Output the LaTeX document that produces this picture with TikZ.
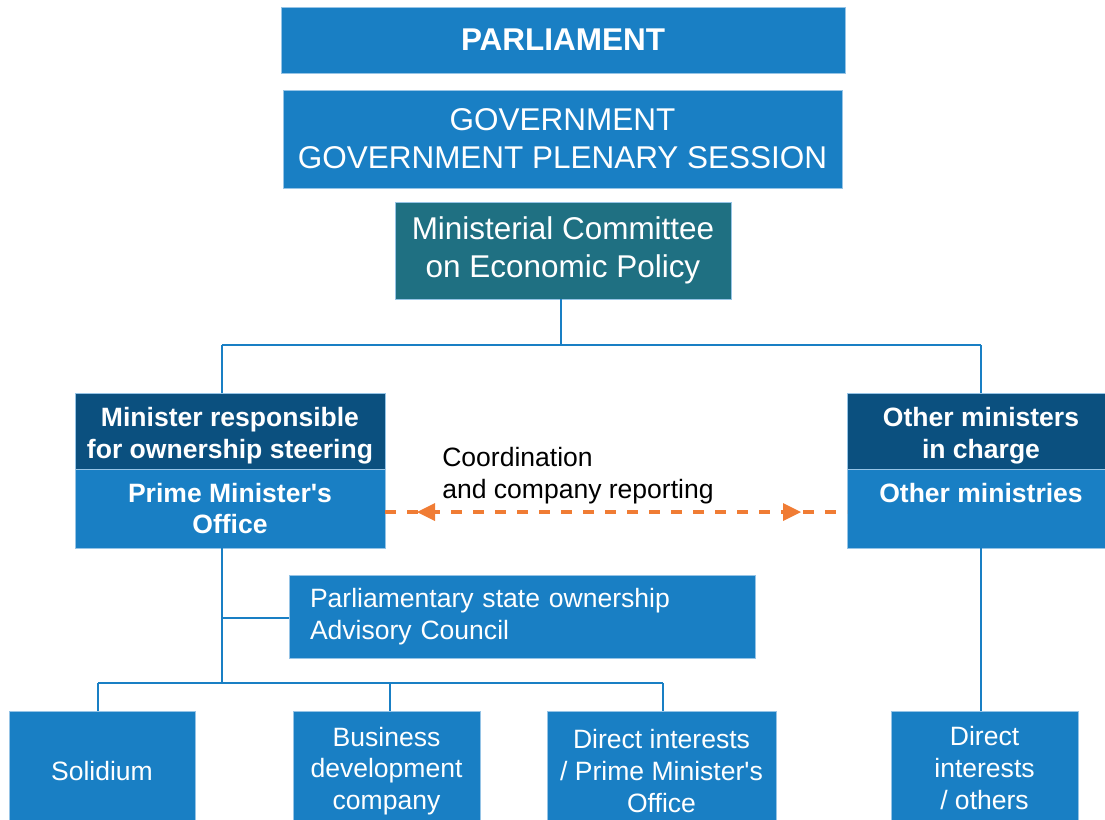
\documentclass[tikz,border=0pt]{standalone}
\usepackage{fontspec}
\setmainfont{Liberation Sans}
\usetikzlibrary{decorations.markings,arrows.meta}

\definecolor{boxblue}{RGB}{25,127,196}
\definecolor{boxdark}{RGB}{11,80,127}
\definecolor{boxteal}{RGB}{31,112,130}
\definecolor{boxedge}{RGB}{150,196,230}
\definecolor{linkorange}{RGB}{240,124,52}

\newcommand\fntbig{\fontsize{23.6}{28.4}\selectfont}
\newcommand\fntsmall{\fontsize{19.9}{23.9}\selectfont}
\newcommand\apos{\textquotesingle}
% invisible strut that lowers a two-line heading a little inside its band
\newcommand\toppad{\rule{0pt}{22pt}}

\tikzset{
  % box size given in drawing units (0.75pt each)
  sz/.style 2 args={minimum width=#1*0.75pt, minimum height=#2*0.75pt},
  box/.style={rectangle, fill=boxblue, draw=boxedge, line width=0.6pt, inner sep=0pt,
    text=white, align=center, font=\fntsmall},
  bigbox/.style={box, font=\fntbig},
  darkbox/.style={box, fill=boxdark, font=\fntsmall\bfseries},
  tealbox/.style={bigbox, fill=boxteal},
  conn/.style={draw=boxblue, line width=1.5pt},
  link/.style={draw=linkorange, line width=3pt, dash pattern=on 8.25pt off 8.25pt,
    postaction={decorate, decoration={markings,
      mark=at position 24pt with {\arrowreversed[line width=0pt]{Triangle[length=13.5pt,width=13.5pt,fill=linkorange]}},
      mark=at position 312pt with {\arrow[line width=0pt]{Triangle[length=13.5pt,width=13.5pt,fill=linkorange]}}}}},
}

\begin{document}
\begin{tikzpicture}[x=0.75pt,y=-0.75pt]
\useasboundingbox (0,0) rectangle (1105,819);

% top of the hierarchy
\node[bigbox, font=\fntbig\bfseries, sz={564}{66}] (parl) at (563,40) {PARLIAMENT};
\node[bigbox, sz={559}{98}] (gov) at (562.5,139) {GOVERNMENT\\GOVERNMENT PLENARY SESSION};
\node[tealbox, sz={336}{97}] (mcep) at (563,250.5) {Ministerial Committee\\on Economic Policy};

% ministers
\node[box, font=\fntsmall\bfseries, sz={310}{79}] (pmo) at (230,508.5) {Prime Minister\apos s\\Office};
\node[darkbox, sz={310}{76}] (minister) at (230,431) {\toppad Minister responsible\\for ownership steering};
\node[box, font=\fntsmall\bfseries, sz={268}{79}] (othmy) at (981,508.5) {Other ministries\\\phantom{Office}};
\node[darkbox, sz={268}{76}] (othmin) at (981,431) {\toppad Other ministers\\in charge};

% advisory council
\node[box, sz={466}{83}, text width=318pt, align=left] (council) at (522,616.5)
  {Parliamentary state ownership\\Advisory Council};

% owned companies
\node[box, sz={186}{120}] (solidium) at (102,771) {Solidium};
\node[box, sz={187}{120}] (business) at (386.5,771) {Business\\development\\company};
\node[box, sz={229}{120}] (directpmo) at (661.5,771) {Direct interests\\/ Prime Minister\apos s\\Office};
\node[box, sz={187}{114}] (directoth) at (984.5,768) {Direct\\interests\\/ others};

% coordination label
\node[anchor=north west, inner sep=0pt, align=left, font=\fntsmall, text=black] (coordlbl)
  at (442,447) {Coordination\\and company reporting};

% junction points of the tree
\coordinate (jl) at (222,345);
\coordinate (jr) at (981,345);
\coordinate (ja) at (222,618);
\coordinate (jb) at (222,683);
\coordinate (bl) at (98,683);
\coordinate (bm) at (390,683);
\coordinate (br) at (663,683);

\draw[conn] (mcep.south -| 561,0) -- (561,345);
\draw[conn] (jl) -- (jr);
\draw[conn] (jl) -- (jl |- minister.north);
\draw[conn] (jr) -- (jr |- othmin.north);
\draw[conn] (jl |- pmo.south) -- (jb);
\draw[conn] (ja) -- (ja -| council.west);
\draw[conn] (bl) -- (br);
\draw[conn] (bl) -- (bl |- solidium.north);
\draw[conn] (bm) -- (bm |- business.north);
\draw[conn] (br) -- (br |- directpmo.north);
\draw[conn] (jr |- othmy.south) -- (jr |- directoth.north);

% reporting link between the ministries
\coordinate (dl) at (385,512);
\coordinate (dr) at (847,512);
\draw[link] (dl) -- (dr);
\end{tikzpicture}
\end{document}
